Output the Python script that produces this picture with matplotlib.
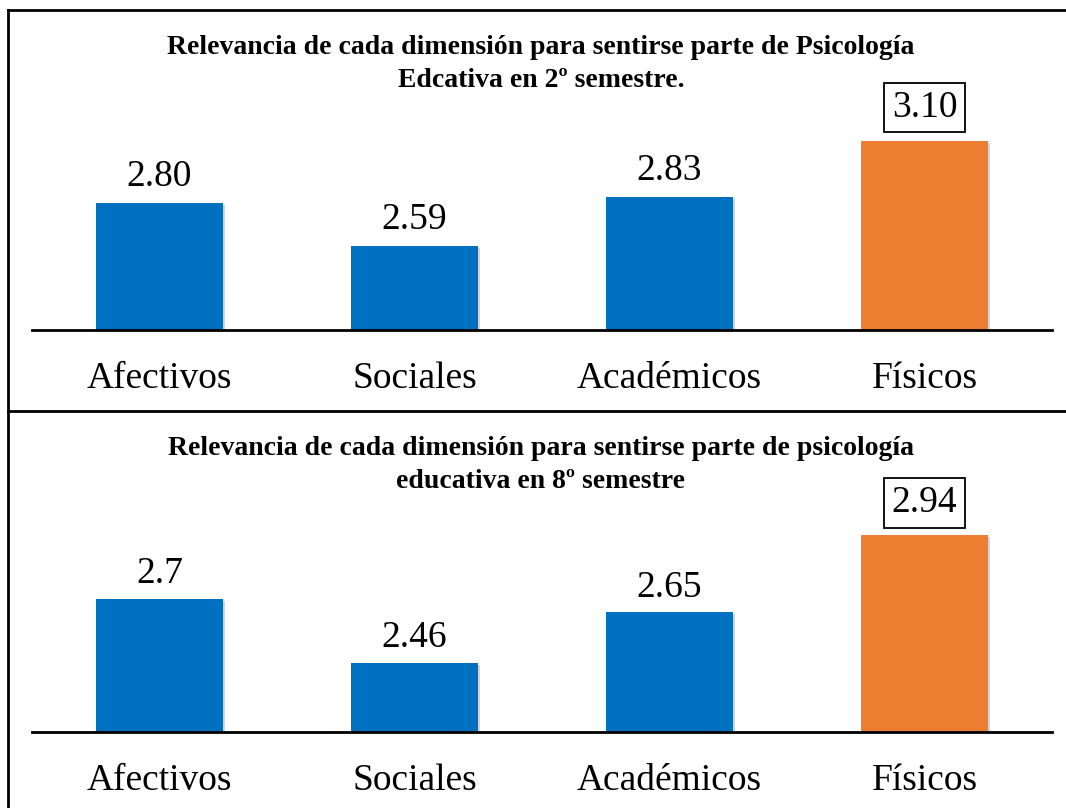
import matplotlib
matplotlib.use("Agg")
import matplotlib.pyplot as plt
import matplotlib.patheffects as pe
from matplotlib.lines import Line2D

plt.rcParams["font.family"] = ["Liberation Serif", "DejaVu Serif"]

categories = ["Afectivos", "Sociales", "Académicos", "Físicos"]
values_2 = [2.80, 2.59, 2.83, 3.10]
labels_2 = ["2.80", "2.59", "2.83", "3.10"]
values_8 = [2.70, 2.46, 2.65, 2.94]
labels_8 = ["2.7", "2.46", "2.65", "2.94"]
title_2 = "Relevancia de cada dimensión para sentirse parte de Psicología\nEdcativa en 2º semestre."
title_8 = "Relevancia de cada dimensión para sentirse parte de psicología\neducativa en 8º semestre"

BLUE = "#0070C0"
ORANGE = "#ED7D31"
W, H = 1066, 808


def draw_panel(fig, rect, values, labels, ylim, label_off):
    ax = fig.add_axes(rect)
    x = list(range(len(categories)))
    colors = [BLUE] * (len(values) - 1) + [ORANGE]
    bars = ax.bar(x, values, width=0.5, color=colors, zorder=2)
    for b in bars:
        b.set_path_effects([pe.SimplePatchShadow(offset=(1.5, -1.5), shadow_rgbFace="#888888", alpha=0.35),
                            pe.Normal()])
    ax.set_xlim(-0.5, len(categories) - 0.5)
    ax.set_ylim(*ylim)
    for i, (v, lab) in enumerate(zip(values, labels)):
        last = i == len(values) - 1
        ax.annotate(lab, (i, v), xytext=(0, label_off + (5 if last else 0)),
                    textcoords="offset points", ha="center", va="center", fontsize=27,
                    bbox=dict(boxstyle="square,pad=0.2", fc="white", ec="black", lw=1.3) if last else None)
    for s in ["top", "right", "left"]:
        ax.spines[s].set_visible(False)
    ax.spines["bottom"].set_linewidth(2)
    ax.spines["bottom"].set_zorder(3)
    ax.set_yticks([])
    ax.set_xticks(x)
    ax.set_xticklabels(categories, fontsize=27)
    ax.tick_params(axis="x", length=0, pad=23)
    return ax


fig = plt.figure(figsize=(W / 100, H / 100), dpi=100)

left = 32 / W
width = (1052 - 32) / W

# top panel: baseline at 330 px, top at 50 px
draw_panel(fig, [left, 1 - 330 / H, width, 280 / H], values_2, labels_2, (2.186, 2.186 + 280 / 207), 19)
# bottom panel: baseline at 732 px, top at 450 px
draw_panel(fig, [left, 1 - 732 / H, width, 282 / H], values_8, labels_8, (2.2, 2.2 + 282 / 266), 18)

fig.text(541 / W, 1 - 64 / H, title_2, ha="center", va="center", fontsize=20,
         fontweight="bold", linespacing=1.38)
fig.text(541 / W, 1 - 465 / H, title_8, ha="center", va="center", fontsize=20,
         fontweight="bold", linespacing=1.38)

# frame lines
fig.add_artist(Line2D([8 / W, 1], [1 - 10 / H, 1 - 10 / H], color="black", lw=2))
fig.add_artist(Line2D([8 / W, 8 / W], [0, 1 - 10 / H], color="black", lw=2))
fig.add_artist(Line2D([8 / W, 1], [1 - 411 / H, 1 - 411 / H], color="black", lw=2))

fig.savefig("out.png", dpi=100, facecolor="white")
